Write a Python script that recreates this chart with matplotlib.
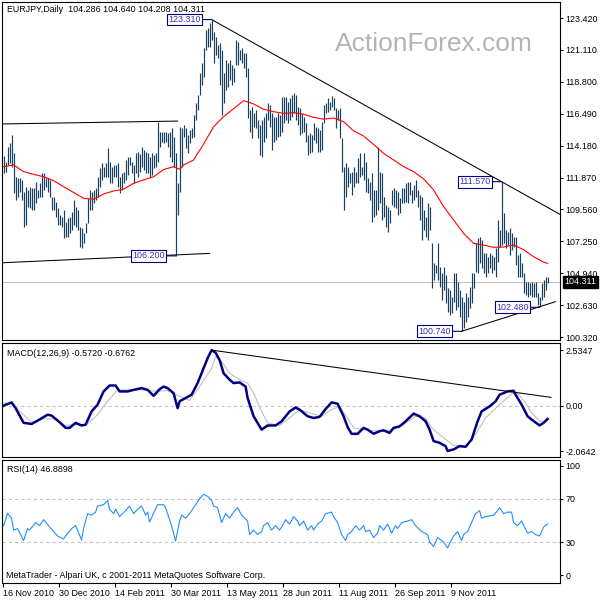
import numpy as np
import matplotlib.pyplot as plt

plt.rcParams['font.family'] = ['Liberation Sans', 'DejaVu Sans']
plt.rcParams['font.size'] = 6.4

# daily bars, EURJPY (high / low), one per bar index
highs = [113.43, 113.02, 114.11, 114.35, 114.95, 113.62, 111.93, 111.81, 111.81, 111.69,
         110.85, 111.21, 110.97, 111.21, 111.09, 111.09, 111.57, 110.97, 111.45, 112.18,
         112.18, 111.81, 111.81, 111.69, 110.49, 110.49, 110.13, 109.64, 109.16, 109.04,
         109.52, 108.68, 108.92, 109.04, 109.40, 110.25, 109.76, 109.52, 108.32, 108.19,
         107.83, 108.56, 110.37, 110.97, 110.85, 110.97, 111.09, 111.93, 112.54, 112.90,
         112.66, 112.90, 113.99, 113.02, 112.66, 112.78, 112.78, 112.90, 111.93, 112.18,
         112.30, 113.14, 113.38, 113.38, 113.02, 112.78, 113.62, 113.74, 113.60, 114.11,
         113.87, 113.74, 113.62, 113.38, 113.62, 113.50, 113.62, 115.92, 115.19, 115.19,
         115.19, 115.19, 115.07, 115.19, 115.43, 114.83, 113.62, 111.45, 115.55, 115.43,
         115.68, 115.43, 114.95, 115.31, 115.43, 116.40, 117.24, 117.85, 119.42, 120.14,
         121.23, 122.55, 122.67, 123.03, 123.31, 122.43, 122.07, 121.47, 121.59, 121.10,
         119.42, 120.38, 120.14, 120.38, 120.02, 119.78, 121.83, 121.71, 121.10, 121.23,
         120.86, 120.86, 119.78, 116.76, 117.00, 116.52, 116.76, 116.04, 115.68, 116.04,
         116.28, 116.52, 117.24, 117.12, 116.52, 116.28, 116.28, 116.52, 116.40, 117.73,
         117.73, 117.73, 117.36, 117.61, 117.85, 117.97, 117.85, 117.00, 116.88, 116.52,
         116.28, 115.80, 114.95, 115.07, 114.95, 115.80, 115.55, 115.43, 115.31, 115.92,
         117.12, 117.24, 117.61, 117.36, 117.77, 117.61, 116.88, 116.76, 116.88, 114.71,
         112.66, 112.90, 112.66, 112.18, 112.30, 112.66, 112.30, 113.26, 113.62, 112.66,
         113.62, 113.02, 111.81, 111.57, 112.18, 110.97, 110.97, 114.11, 112.30, 112.18,
         110.49, 109.88, 109.76, 109.52, 110.97, 111.09, 110.97, 110.85, 110.37, 111.09,
         111.09, 111.45, 111.57, 111.57, 110.97, 111.33, 111.69, 110.97, 110.61, 110.49,
         109.52, 109.04, 110.00, 109.76, 107.11, 105.66, 105.54, 107.11, 105.42, 104.94,
         105.42, 104.82, 103.85, 103.73, 103.25, 104.94, 104.94, 104.33, 103.73, 103.25,
         102.89, 103.49, 103.25, 103.97, 104.94, 104.94, 107.11, 107.47, 107.59, 107.35,
         106.38, 106.38, 106.14, 106.38, 106.26, 106.14, 106.75, 108.80, 108.07, 111.57,
         109.28, 108.07, 107.95, 108.19, 107.83, 107.59, 107.59, 106.26, 106.38, 105.66,
         104.94, 104.33, 104.33, 104.21, 104.33, 104.21, 104.33, 103.49, 103.25, 104.21,
         104.45, 104.70, 104.64]
lows = [112.22, 112.30, 112.78, 112.90, 112.66, 110.73, 110.25, 110.49, 110.85, 110.25,
        108.32, 108.44, 109.76, 109.64, 109.52, 109.52, 110.00, 110.37, 110.49, 110.49,
        110.97, 111.21, 110.85, 110.49, 109.52, 109.52, 109.04, 108.44, 108.44, 108.32,
        107.47, 107.59, 107.59, 107.83, 108.07, 108.44, 108.32, 108.07, 106.87, 106.75,
        107.11, 107.83, 108.56, 109.52, 109.52, 110.00, 110.25, 110.49, 111.21, 111.69,
        111.93, 111.93, 111.93, 111.45, 111.45, 111.93, 111.93, 111.21, 110.73, 110.97,
        111.45, 111.69, 112.06, 112.78, 112.18, 111.45, 112.18, 111.93, 112.30, 112.66,
        112.42, 112.18, 112.18, 111.93, 112.06, 112.54, 112.66, 113.02, 114.11, 114.47,
        114.35, 114.47, 114.11, 113.38, 113.02, 112.66, 106.20, 109.16, 110.85, 112.66,
        114.83, 113.99, 113.62, 114.35, 114.71, 114.83, 116.04, 116.76, 117.85, 118.57,
        119.17, 121.10, 121.35, 121.35, 121.83, 120.14, 120.74, 120.50, 118.57, 116.40,
        117.24, 118.21, 118.45, 118.93, 118.57, 118.81, 120.02, 120.02, 120.38, 120.14,
        119.78, 119.17, 116.16, 115.19, 114.71, 115.55, 115.43, 114.71, 113.50, 113.38,
        114.47, 114.71, 116.04, 115.55, 113.87, 114.47, 114.59, 114.83, 114.90, 115.19,
        115.80, 116.04, 115.80, 116.04, 116.28, 116.52, 116.04, 115.68, 114.95, 115.07,
        115.19, 114.47, 113.50, 113.62, 113.74, 114.59, 114.35, 113.74, 113.74, 113.87,
        115.80, 116.52, 116.64, 116.76, 117.00, 116.76, 115.43, 116.04, 114.71, 112.30,
        109.52, 110.49, 111.21, 111.45, 110.61, 111.21, 111.45, 111.45, 111.93, 112.06,
        111.69, 110.85, 110.73, 110.25, 108.68, 109.04, 109.16, 109.52, 110.00, 108.80,
        109.04, 108.32, 107.95, 108.56, 109.88, 109.76, 109.64, 109.16, 109.28, 110.00,
        110.00, 110.13, 110.00, 110.61, 110.00, 110.25, 110.49, 109.76, 108.80, 107.35,
        108.07, 107.59, 107.35, 108.07, 103.85, 104.45, 104.94, 104.45, 103.97, 103.01,
        103.73, 102.77, 102.16, 101.92, 102.04, 102.89, 102.28, 102.52, 101.80, 100.74,
        101.00, 101.44, 101.80, 102.40, 102.77, 103.85, 105.06, 104.94, 105.66, 105.30,
        104.94, 104.70, 104.94, 105.30, 104.94, 105.18, 104.70, 105.78, 106.87, 106.99,
        107.11, 106.75, 106.99, 106.26, 106.63, 106.87, 105.54, 104.70, 104.70, 104.70,
        103.49, 103.37, 103.25, 103.37, 103.25, 103.25, 103.25, 102.64, 102.48, 103.01,
        103.25, 103.73, 104.21]

# moving average (red), read at selected bars
ma_bar = [0, 5, 10, 15, 20, 25, 30, 35, 40, 45, 50, 55, 60, 65, 70, 75, 80, 85, 88, 90,
          95, 100, 105, 110, 115, 120, 125, 130, 135, 140, 145, 150, 155, 160, 165, 170,
          175, 180, 185, 190, 195, 200, 205, 210, 215, 220, 225, 230, 235, 240, 245, 250,
          255, 260, 265, 270, 272]
ma_val = [112.66, 112.78, 112.30, 112.10, 111.93, 111.65, 111.21, 110.79, 110.37, 110.30,
          110.68, 110.90, 111.03, 111.45, 111.70, 111.93, 112.45, 112.66, 112.47, 112.78,
          113.14, 114.30, 115.55, 116.28, 116.85, 117.44, 117.20, 116.82, 116.64, 116.52,
          116.57, 116.45, 116.23, 116.10, 116.18, 115.92, 115.25, 114.88, 114.27, 113.62,
          113.15, 112.66, 112.30, 111.78, 110.97, 109.77, 108.80, 107.83, 107.11, 106.98,
          106.82, 106.84, 106.99, 106.65, 106.14, 105.75, 105.66]

# MACD(12,26,9) main and signal
macd_bar = [0, 4, 6, 10, 14, 17, 22, 24, 28, 31, 33, 36, 39, 41, 44, 47, 50, 53, 56, 58,
            62, 65, 69, 72, 75, 78, 80, 82, 85, 87, 88, 91, 94, 97, 99, 102, 104, 106, 108, 110,
            113, 115, 118, 121, 122, 125, 129, 132, 136, 139, 143, 146, 148, 152, 155, 158, 161,
            164, 167, 170, 172, 174, 177, 180, 182, 185, 188, 190, 193, 195, 198, 201, 205, 208,
            211, 213, 215, 218, 221, 222, 225, 228, 231, 234, 237, 239, 243, 246, 248, 252, 255,
            256, 259, 262, 264, 268, 270, 272]
macd_val = [0.00, 0.15, -0.11, -0.78, -0.83, -0.68, -0.41, -0.45, -0.75, -1.01,
            -1.01, -0.78, -0.90, -0.86, -0.26, 0.05, 0.65, 0.92, 0.92, 0.65,
            0.65, 0.72, 0.80, 0.72, 0.45, 0.75, 0.87, 0.80, 0.57, -0.11,
            0.20, 0.35, 0.50, 1.03, 1.48, 2.16, 2.53, 2.41, 2.08, 1.48,
            1.18, 1.03, 1.06, 0.87, 0.35, -0.48, -1.09, -0.90, -0.90, -0.71,
            -0.26, -0.08, -0.18, -0.48, -0.56, -0.51, -0.15, 0.15, 0.09, -0.48,
            -0.97, -1.28, -1.28, -1.01, -1.09, -1.28, -1.16, -1.12, -1.24, -1.01,
            -0.94, -0.71, -0.36, -0.48, -0.71, -1.09, -1.61, -1.69, -1.84, -2.06,
            -1.99, -1.84, -1.87, -1.54, -0.71, -0.26, -0.03, 0.20, 0.50, 0.65,
            0.68, 0.50, 0.05, -0.48, -0.63, -0.90, -0.78, -0.60]
sig_bar = [0, 4, 9, 14, 20, 25, 31, 36, 41, 47, 52, 57, 63, 70, 77, 82, 88, 93, 98, 104,
           106, 109, 113, 118, 122, 125, 129, 132, 138, 143, 148, 154, 159, 164, 168, 172, 175,
           182, 189, 195, 200, 206, 211, 214, 220, 225, 231, 236, 241, 248, 254, 257, 261, 264,
           268, 272]
sig_val = [0.12, 0.09, -0.33, -0.75, -0.60, -0.60, -0.90, -0.86, -0.90, -0.41,
           0.20, 0.72, 0.72, 0.72, 0.65, 0.69, 0.42, 0.24, 0.87, 1.70,
           2.23, 2.01, 1.48, 1.18, 1.03, 0.57, -0.26, -0.78, -0.90, -0.56,
           -0.18, -0.36, -0.48, -0.18, -0.03, -0.56, -1.01, -1.12, -1.16, -1.09,
           -0.86, -0.48, -0.56, -1.01, -1.46, -1.81, -1.87, -1.31, -0.56, 0.05,
           0.54, 0.57, 0.12, -0.33, -0.71, -0.68]

# RSI(14)
rsi_bar = [0, 2, 4, 5, 7, 10, 12, 13, 16, 18, 20, 23, 27, 30, 31, 34, 36, 39, 40, 42,
           44, 46, 47, 50, 52, 53, 55, 56, 58, 61, 63, 65, 67, 69, 71, 72, 73, 77, 80, 81,
           84, 86, 88, 89, 91, 93, 96, 98, 100, 102, 104, 105, 107, 109, 111, 113, 115, 117,
           119, 122, 123, 125, 127, 129, 130, 132, 134, 136, 138, 139, 141, 143, 145, 147,
           148, 150, 152, 154, 155, 157, 159, 161, 164, 165, 167, 169, 171, 172, 174, 176,
           178, 180, 181, 183, 185, 187, 188, 190, 192, 194, 196, 197, 199, 202, 204, 206,
           209, 212, 213, 215, 217, 220, 222, 223, 225, 227, 229, 230, 232, 234, 236, 238,
           239, 241, 245, 247, 248, 250, 252, 254, 255, 257, 259, 262, 264, 266, 268, 270, 272]
rsi_val = [45.3, 56.8, 52.2, 41.2, 42.6, 31.6, 42.6, 41.2, 48.1, 45.3, 50.8, 44.0, 35.8,
           33.0, 35.8, 42.6, 45.3, 32.2, 42.6, 56.3, 54.9, 57.7, 63.2, 64.5, 68.6, 60.4,
           56.3, 60.4, 53.6, 59.0, 63.2, 56.3, 60.4, 63.2, 54.9, 57.7, 48.6, 64.5, 64.5,
           61.8, 45.3, 31.1, 49.5, 54.9, 52.2, 56.3, 64.5, 70.0, 74.1, 72.2, 68.6, 63.2,
           61.8, 48.1, 56.3, 52.2, 57.7, 61.8, 54.9, 49.5, 37.1, 41.2, 37.1, 39.9, 45.3,
           48.1, 41.2, 45.3, 41.2, 44.0, 50.8, 46.7, 53.6, 49.5, 45.3, 49.5, 41.2, 45.3,
           41.2, 46.7, 49.5, 56.3, 57.7, 53.6, 48.1, 37.1, 31.6, 37.1, 39.9, 45.3, 41.2,
           45.3, 39.9, 41.2, 34.4, 38.5, 45.3, 41.2, 46.7, 38.5, 45.3, 42.6, 48.1, 49.5,
           50.8, 45.3, 39.9, 37.1, 30.3, 26.2, 34.4, 30.3, 24.8, 28.9, 35.8, 39.9, 31.6,
           37.1, 39.9, 48.1, 56.3, 59.0, 52.2, 53.6, 54.9, 59.0, 61.8, 56.3, 57.7, 57.7,
           48.1, 45.3, 49.5, 38.5, 39.9, 37.1, 35.8, 44.0, 46.9]

# labelled swing points
swing_bar = [104, 86, 249, 229, 268]
swing_price = [123.310, 106.200, 111.570, 100.740, 102.480]

last_price = 104.311
price_ticks = [123.420, 121.110, 118.800, 116.490, 114.180, 111.870, 109.560, 107.250,
               104.940, 102.630, 100.320]
macd_ticks = [2.5347, 0.0, -2.0642]
macd_tick_labels = ['2.5347', '0.00', '-2.0642']
rsi_ticks = [100, 70, 30, 0]
date_bars = [0, 28, 56, 84, 112, 140, 168, 196, 224]
date_labels = ['16 Nov 2010', '30 Dec 2010', '14 Feb 2011', '30 Mar 2011', '13 May 2011',
               '28 Jun 2011', '11 Aug 2011', '26 Sep 2011', '9 Nov 2011']

BAR_COL = '#173f5f'
NAVY = '#000080'


def box(left, top, right, bottom):
    # pixel box -> figure fraction rect
    return [left / 600, 1 - bottom / 600, (right - left) / 600, (bottom - top) / 600]


fig = plt.figure(figsize=(6, 6), dpi=100)
ax = fig.add_axes(box(2, 2, 560, 340))
ax_macd = fig.add_axes(box(2, 343, 560, 457))
ax_rsi = fig.add_axes(box(2, 460, 560, 583))

bars = np.arange(len(highs))

# price panel
ax.axhline(last_price, color='#c0c0c0', lw=0.75)
ax.vlines(bars, lows, highs, color=BAR_COL, lw=0.85)
ax.plot(ma_bar, ma_val, color='red', lw=0.8)

# trend lines
ax.plot([104, 278.4], [123.31, 109.19], color='black', lw=0.75)
ax.plot([-1, 87], [115.75, 115.96], color='black', lw=0.75)
ax.plot([-1, 103], [105.70, 106.38], color='black', lw=0.75)
ax.plot([229, 275.9], [100.74, 102.88], color='black', lw=0.75)

for b, p in zip(swing_bar, swing_price):
    ax.annotate(f'{p:.3f}', xy=(b, p), xytext=(-11, 0), textcoords='offset pixels',
                ha='right', va='center', color='#3c2fa5',
                bbox=dict(boxstyle='square,pad=0.15', fc='white', ec=NAVY, lw=0.8),
                arrowprops=dict(arrowstyle='-', color=NAVY, lw=0.8, shrinkA=0, shrinkB=0))

ax.text(1.008, last_price, f'{last_price:.3f}', transform=ax.get_yaxis_transform(),
        ha='left', va='center', color='white', clip_on=False,
        bbox=dict(boxstyle='square,pad=0.2', fc='black', ec='black'))

ax.set_ylim(100.11, 124.58)
ax.set_yticks(price_ticks)
ax.set_yticklabels([f'{t:.3f}' for t in price_ticks])

# MACD panel
ax_macd.axhline(0, color='#c0c0c0', lw=0.75, ls=(0, (3, 3)))
ax_macd.plot(sig_bar, sig_val, color='#c0c0c0', lw=0.8)
ax_macd.plot(macd_bar, macd_val, color=NAVY, lw=1.8)
ax_macd.plot([104, 273.7], [2.53, 0.38], color='black', lw=0.75)
ax_macd.set_ylim(-2.335, 2.854)
ax_macd.set_yticks(macd_ticks)
ax_macd.set_yticklabels(macd_tick_labels)

# RSI panel
for lvl in (70, 30):
    ax_rsi.axhline(lvl, color='#c0c0c0', lw=0.75, ls=(0, (3, 3)))
ax_rsi.plot(rsi_bar, rsi_val, color='#1e90ff', lw=0.8)
ax_rsi.set_ylim(-7.3, 105.5)
ax_rsi.set_yticks(rsi_ticks)
ax_rsi.set_yticklabels([str(t) for t in rsi_ticks])

for a in (ax, ax_macd, ax_rsi):
    a.set_xlim(-0.8, 278.2)
    a.yaxis.tick_right()
    a.tick_params(axis='y', direction='out', length=2.5, width=0.8, pad=1.5, colors='black')
    for s in a.spines.values():
        s.set_linewidth(0.8)
        s.set_color('black')
ax.tick_params(axis='x', bottom=False, labelbottom=False)
ax_macd.tick_params(axis='x', bottom=False, labelbottom=False)

ax_rsi.set_xticks(np.array(date_bars) - 0.5)
ax_rsi.set_xticklabels(date_labels, ha='left')
ax_rsi.tick_params(axis='x', direction='out', length=3, width=0.8, pad=1)

# captions
fig.text(7 / 600, 1 - 9 / 600, 'EURJPY,Daily  104.286 104.640 104.208 104.311', va='center')
fig.text(7 / 600, 1 - 353 / 600, 'MACD(12,26,9) -0.5720 -0.6762', va='center')
fig.text(7 / 600, 1 - 470 / 600, 'RSI(14) 46.8898', va='center')
fig.text(6 / 600, 1 - 575 / 600, 'MetaTrader - Alpari UK, c 2001-2011 MetaQuotes Software Corp.',
         va='center')
fig.text(335 / 600, 1 - 51 / 600, 'ActionForex.com', fontsize=19, color='#b4b4b4',
         va='baseline')

fig.savefig('out.png', dpi=100)
